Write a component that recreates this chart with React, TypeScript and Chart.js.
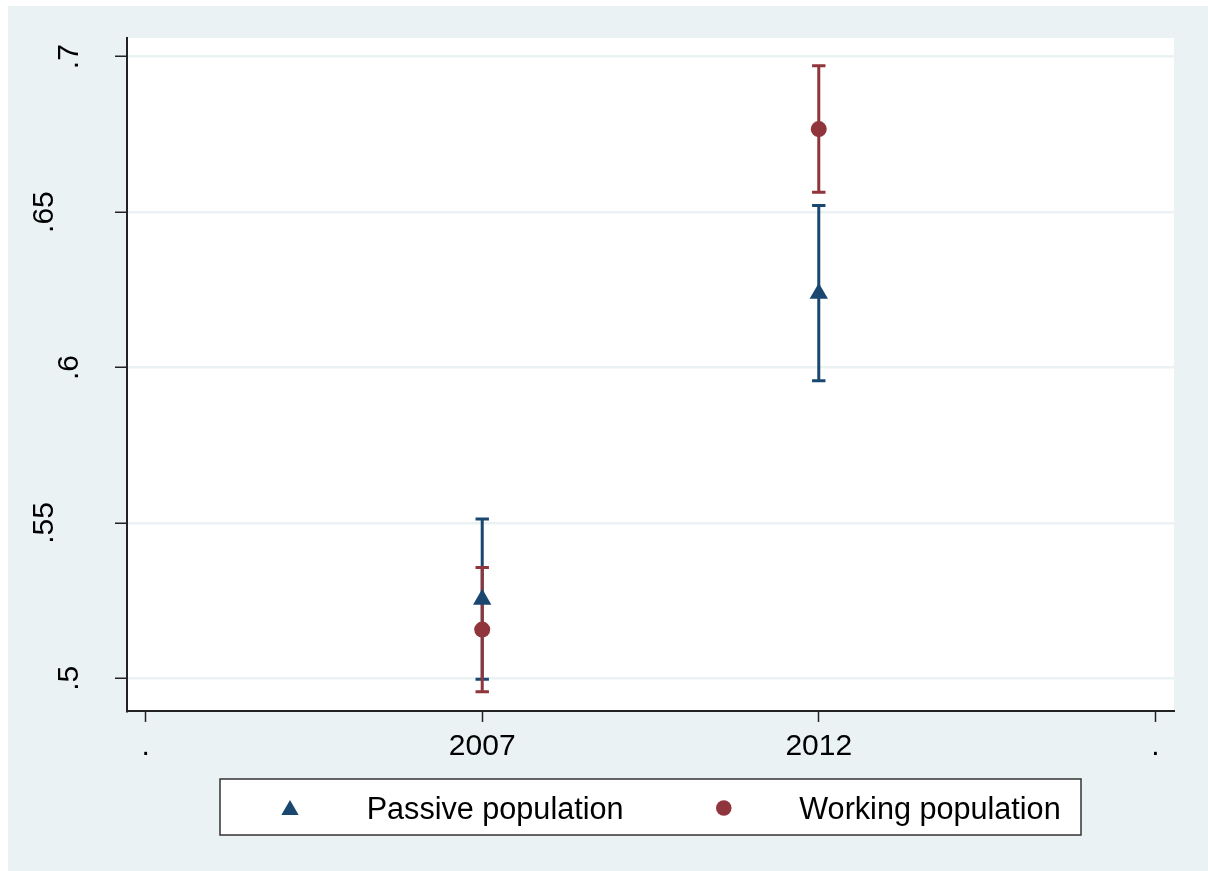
import React, { useEffect, useRef } from 'react';
import { Chart, registerables } from 'chart.js';

Chart.register(...registerables);

// ---- data ----
const xTickLabels = ['.', '2007', '2012', '.'];
const categories = ['2007', '2012'];
const yTickValues = [0.5, 0.55, 0.6, 0.65, 0.7];
const yTickLabels = ['.5', '.55', '.6', '.65', '.7'];
const seriesLabels = ['Passive population', 'Working population'];

const passiveMean = [0.5254, 0.6238];
const passiveLow = [0.4997, 0.5957];
const passiveHigh = [0.5513, 0.6521];

const workingMean = [0.5157, 0.6767];
const workingLow = [0.4957, 0.6564];
const workingHigh = [0.5357, 0.6971];

const NAVY = '#1A476F';
const MAROON = '#90353B';
const BG = '#EAF2F3';
const AXIS = '#222222';
const FONT = "'Liberation Sans', Arial, Helvetica, sans-serif";

const bgPlugin = {
  id: 'bgPlugin',
  beforeDraw(chart: any) {
    const { ctx, chartArea } = chart;
    ctx.save();
    ctx.fillStyle = BG;
    ctx.fillRect(0, 0, chart.width, chart.height);
    ctx.fillStyle = '#FFFFFF';
    ctx.fillRect(chartArea.left, chartArea.top, chartArea.right - chartArea.left, chartArea.bottom - chartArea.top);
    ctx.restore();
  },
};

const errorBarPlugin = {
  id: 'errorBarPlugin',
  beforeDatasetsDraw(chart: any) {
    const { ctx } = chart;
    const xs = chart.scales.x;
    const ys = chart.scales.y;
    const capHalf = 6.7;
    ctx.save();
    ctx.lineWidth = 3;
    ctx.lineCap = 'butt';
    chart.data.datasets.forEach((ds: any) => {
      ctx.strokeStyle = ds.borderColor;
      ds.data.forEach((p: any, i: number) => {
        const px = xs.getPixelForValue(p.x);
        const yl = ys.getPixelForValue(ds.errLow[i]);
        const yh = ys.getPixelForValue(ds.errHigh[i]);
        ctx.beginPath();
        ctx.moveTo(px, yl);
        ctx.lineTo(px, yh);
        ctx.moveTo(px - capHalf, yl);
        ctx.lineTo(px + capHalf, yl);
        ctx.moveTo(px - capHalf, yh);
        ctx.lineTo(px + capHalf, yh);
        ctx.stroke();
      });
    });
    ctx.restore();
  },
};

const yLabelPlugin = {
  id: 'yLabelPlugin',
  afterDraw(chart: any) {
    const { ctx, chartArea } = chart;
    const ys = chart.scales.y;
    ctx.save();
    ctx.font = `30px ${FONT}`;
    ctx.fillStyle = '#000';
    yTickValues.forEach((v, i) => {
      const lbl = yTickLabels[i];
      const y = ys.getPixelForValue(v);
      const w = ctx.measureText(lbl).width;
      const x = chartArea.left - 11 - 1.5 * w;
      ctx.save();
      ctx.translate(x, y);
      ctx.rotate(-Math.PI / 2);
      ctx.textAlign = 'center';
      ctx.textBaseline = 'alphabetic';
      ctx.fillText(lbl, 0, 0);
      ctx.restore();
    });
    ctx.restore();
  },
};

const legendPlugin = {
  id: 'legendPlugin',
  afterDraw(chart: any) {
    const { ctx, chartArea } = chart;
    const boxW = 861;
    const boxH = 56;
    const cx = (chartArea.left + chartArea.right) / 2;
    const left = Math.round(cx - boxW / 2);
    const top = 773;
    ctx.save();
    ctx.fillStyle = '#FFFFFF';
    ctx.fillRect(left, top, boxW, boxH);
    ctx.strokeStyle = '#333333';
    ctx.lineWidth = 1.5;
    ctx.strokeRect(left, top, boxW, boxH);

    const ds = chart.data.datasets;
    const midY = top + 28.5;
    // passive: triangle
    const t = ds[0];
    ctx.fillStyle = t.backgroundColor;
    const tx = left + 70;
    const r = 10;
    const tcy = midY + r / 4;
    ctx.beginPath();
    ctx.moveTo(tx, tcy - r);
    ctx.lineTo(tx + r * Math.sin(Math.PI / 3), tcy + r / 2);
    ctx.lineTo(tx - r * Math.sin(Math.PI / 3), tcy + r / 2);
    ctx.closePath();
    ctx.fill();

    ctx.font = `30.6px ${FONT}`;
    ctx.fillStyle = '#000';
    ctx.textAlign = 'left';
    ctx.textBaseline = 'alphabetic';
    ctx.fillText(t.label, left + 146.7, top + 40);

    const w = ds[1];
    ctx.fillStyle = w.backgroundColor;
    ctx.beginPath();
    ctx.arc(left + 503.8, midY + 0.5, 7.8, 0, Math.PI * 2);
    ctx.fill();
    ctx.fillStyle = '#000';
    ctx.fillText(w.label, left + 579.3, top + 40);
    ctx.restore();
  },
};

export default function App() {
  const canvasRef = useRef<HTMLCanvasElement | null>(null);

  useEffect(() => {
    if (!canvasRef.current) return;
    const passiveData = categories.map((c, i) => ({ x: xTickLabels.indexOf(c), y: passiveMean[i] }));
    const workingData = categories.map((c, i) => ({ x: xTickLabels.indexOf(c), y: workingMean[i] }));

    const chart = new Chart(canvasRef.current, {
      type: 'scatter',
      data: {
        datasets: [
          {
            label: seriesLabels[0],
            data: passiveData,
            pointStyle: 'triangle',
            pointRadius: 10.6,
            pointHoverRadius: 10.6,
            backgroundColor: NAVY,
            borderColor: NAVY,
            borderWidth: 0,
            showLine: false,
            errLow: passiveLow,
            errHigh: passiveHigh,
          } as any,
          {
            label: seriesLabels[1],
            data: workingData,
            pointStyle: 'circle',
            pointRadius: 8,
            pointHoverRadius: 8,
            backgroundColor: MAROON,
            borderColor: MAROON,
            borderWidth: 0,
            showLine: false,
            errLow: workingLow,
            errHigh: workingHigh,
          } as any,
        ],
      },
      options: {
        responsive: false,
        animation: false,
        layout: { padding: { left: 0, right: 34, top: 32, bottom: 100 } },
        plugins: {
          legend: { display: false },
          tooltip: { enabled: false },
        },
        scales: {
          x: {
            type: 'linear',
            min: -0.0555,
            max: 3.0555,
            afterBuildTicks: (s: any) => {
              s.ticks = xTickLabels.map((_, i) => ({ value: i }));
            },
            afterFit: (s: any) => {
              s.height = 60;
            },
            ticks: {
              callback: (_v: any, i: number) => xTickLabels[i],
              color: '#000',
              font: { family: FONT, size: 30 },
              padding: 7,
              maxRotation: 0,
              minRotation: 0,
              autoSkip: false,
            },
            grid: {
              drawOnChartArea: false,
              drawTicks: true,
              tickLength: 11,
              tickColor: AXIS,
              tickWidth: 1.5,
            },
            border: { display: true, color: AXIS, width: 2 },
          },
          y: {
            type: 'linear',
            min: 0.4895,
            max: 0.706,
            afterBuildTicks: (s: any) => {
              s.ticks = yTickValues.map((v) => ({ value: v }));
            },
            afterFit: (s: any) => {
              s.width = 119;
            },
            ticks: { display: false },
            grid: {
              color: BG,
              lineWidth: 2.5,
              drawTicks: true,
              tickLength: 12,
              tickColor: AXIS,
              tickWidth: 1.5,
            },
            border: { display: true, color: AXIS, width: 2 },
          },
        },
      },
      plugins: [bgPlugin, errorBarPlugin, yLabelPlugin, legendPlugin],
    });
    return () => chart.destroy();
  }, []);

  return (
    <div style={{ position: 'absolute', left: 8, top: 6, width: 1200, height: 865, overflow: 'hidden' }}>
      <canvas ref={canvasRef} width={1200} height={865} style={{ display: 'block', width: 1200, height: 865 }} />
    </div>
  );
}
